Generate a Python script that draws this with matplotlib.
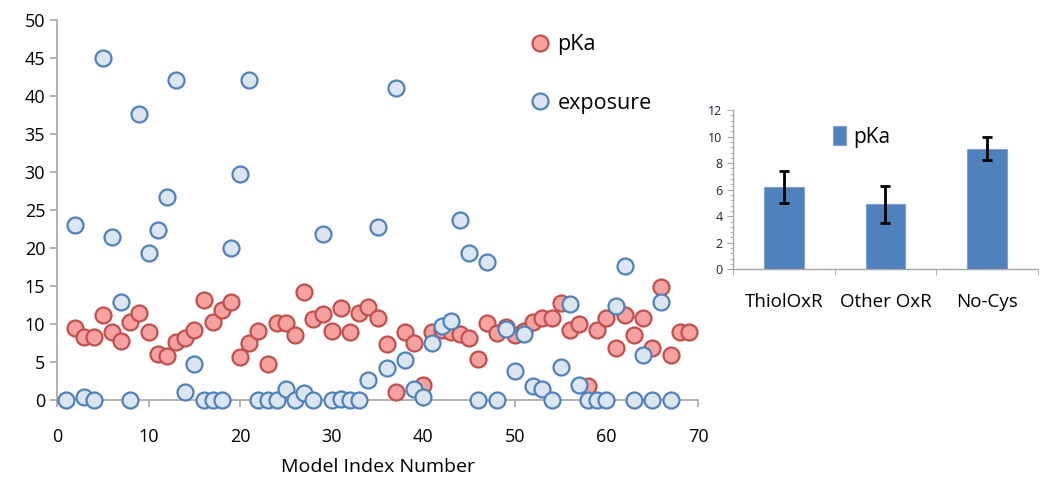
import numpy as np
import matplotlib
matplotlib.use("Agg")
import matplotlib.pyplot as plt
from matplotlib.ticker import MultipleLocator, AutoMinorLocator

plt.rcParams['font.family'] = ['Open Sans', 'DejaVu Sans']

# scatter data: model index vs pKa / exposure
pka_idx = list(range(2, 70))
pka = [9.5, 8.3, 8.3, 11.2, 9.0, 7.8, 10.3, 11.4, 9.0, 6.05,
       5.8, 7.6, 8.1, 9.2, 13.1, 10.3, 11.8, 12.85, 5.7, 7.5,
       9.1, 4.7, 10.1, 10.1, 8.55, 14.2, 10.6, 11.3, 9.1, 12.1,
       9.0, 11.4, 12.2, 10.75, 7.4, 1.0, 9.0, 7.5, 2.0, 9.0,
       9.2, 9.0, 8.75, 8.1, 5.4, 10.2, 8.8, 9.65, 8.55, 9.1,
       10.3, 10.75, 10.75, 12.8, 9.2, 10.0, 1.9, 9.2, 10.75, 6.8,
       11.2, 8.55, 10.75, 6.8, 14.9, 5.9, 8.9, 8.9]

exp_idx = list(range(1, 68))
exposure = [0.0, 23.0, 0.4, 0.0, 45.0, 21.5, 12.9, 0.0, 37.6, 19.3,
            22.4, 26.75, 42.1, 1.0, 4.7, 0.0, 0.0, 0.0, 20.0, 29.8,
            42.1, 0.0, 0.0, 0.0, 1.4, 0.0, 0.9, 0.0, 21.9, 0.0,
            0.15, 0.0, 0.0, 2.6, 22.7, 4.2, 41.0, 5.3, 1.45, 0.35,
            7.55, 9.8, 10.35, 23.7, 19.4, 0.0, 18.2, 0.0, 9.4, 3.8,
            8.65, 1.85, 1.45, 0.0, 4.3, 12.6, 1.95, 0.0, 0.0, 0.0,
            12.35, 17.6, 0.0, 5.9, 0.0, 12.95, 0.0]

# inset bar data
groups = ['ThiolOxR', 'Other OxR', 'No-Cys']
group_pka = [6.2, 4.9, 9.1]
group_err = [1.22, 1.38, 0.88]

fig = plt.figure(figsize=(10.5, 4.87), dpi=100)

ax = fig.add_axes([0.0543, 0.1786, 0.6105, 0.7803])
ax.plot(pka_idx, pka, 'o', ms=11.5, mfc='#F7A1A1', mec='#C0504D', mew=1.6,
        clip_on=False, label='pKa', zorder=3)
ax.plot(exp_idx, exposure, 'o', ms=11.5, mfc='#DCE6F2', mec='#4F81BD', mew=1.6,
        clip_on=False, label='exposure', zorder=4)
ax.set_xlim(0, 70)
ax.set_ylim(0, 50)
ax.xaxis.set_major_locator(MultipleLocator(10))
ax.yaxis.set_major_locator(MultipleLocator(5))
for s in ['top', 'right']:
    ax.spines[s].set_visible(False)
for s in ['left', 'bottom']:
    ax.spines[s].set_color('#A6A6A6')
    ax.spines[s].set_linewidth(1.2)
ax.tick_params(axis='both', colors='#A6A6A6', labelcolor='black', labelsize=13,
               length=5, width=1.2)
ax.tick_params(axis='x', pad=15)
ax.set_xlabel('Model Index Number', fontsize=14, labelpad=9)
ax.legend(loc='upper left', bbox_to_anchor=(0.722, 0.985), frameon=False,
          fontsize=15.5, labelspacing=1.75, handletextpad=0.25, handlelength=1.1,
          borderaxespad=0)

# inset bar chart
ax2 = fig.add_axes([0.698, 0.447, 0.2905, 0.327])
pos = np.arange(len(groups))
ax2.bar(pos, group_pka, width=0.39, color='#4F81BD', edgecolor='#7EA1CF',
        linewidth=0.8, label='pKa', zorder=2)
ax2.errorbar(pos, group_pka, yerr=group_err, fmt='none', ecolor='black',
             elinewidth=2, capsize=3.5, capthick=2, zorder=3)
ax2.set_xlim(-0.5, 2.5)
ax2.set_ylim(0, 12)
ax2.yaxis.set_major_locator(MultipleLocator(2))
ax2.yaxis.set_minor_locator(AutoMinorLocator(5))
ax2.set_xticks(pos)
ax2.set_xticklabels(groups, fontsize=13.5)
ax2.set_xticks([-0.5, 0.5, 1.5, 2.5], minor=True)
for s in ['top', 'right']:
    ax2.spines[s].set_visible(False)
for s in ['left', 'bottom']:
    ax2.spines[s].set_color('#A6A6A6')
    ax2.spines[s].set_linewidth(1.0)
ax2.tick_params(axis='y', which='major', colors='#A6A6A6', labelcolor='#1F1F3F',
                labelsize=9, length=4)
ax2.tick_params(axis='y', which='minor', colors='#A6A6A6', length=2)
ax2.tick_params(axis='x', which='major', length=0, pad=17)
ax2.tick_params(axis='x', which='minor', colors='#A6A6A6', length=4)
ax2.legend(loc='upper left', bbox_to_anchor=(0.3, 0.95), frameon=False,
           fontsize=15, handlelength=0.65, handleheight=1.0, handletextpad=0.35,
           borderaxespad=0)

fig.savefig('out.png', dpi=100)
